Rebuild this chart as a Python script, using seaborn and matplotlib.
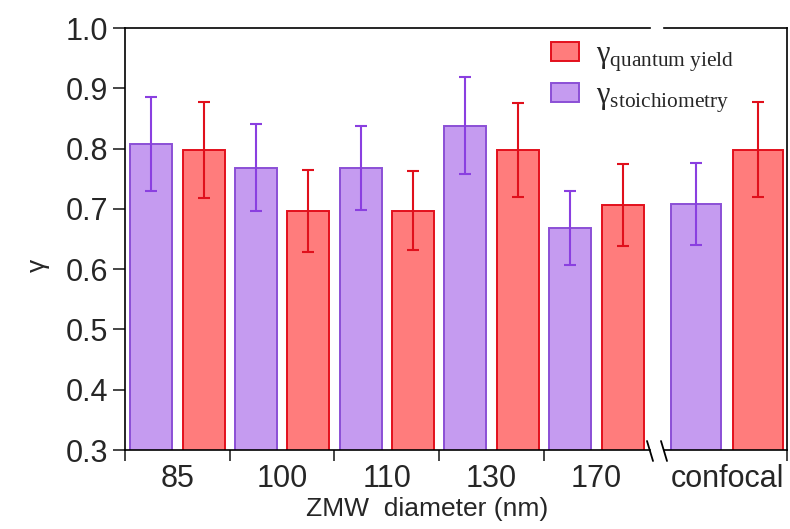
import numpy as np
import pandas as pd
import matplotlib
matplotlib.use("Agg")
import matplotlib.pyplot as plt
from matplotlib.patches import Patch
import seaborn as sns

# ---- data ----
zmw_categories = ["85", "100", "110", "130", "170"]
confocal_category = ["confocal"]
series_names = ["stoichiometry", "quantum yield"]

stoich_values = [0.808, 0.768, 0.768, 0.838, 0.668, 0.708]
stoich_errors = [0.078, 0.072, 0.070, 0.080, 0.061, 0.068]
qy_values = [0.798, 0.697, 0.697, 0.798, 0.707, 0.798]
qy_errors = [0.080, 0.068, 0.066, 0.078, 0.068, 0.079]

y_ticks = [0.3, 0.4, 0.5, 0.6, 0.7, 0.8, 0.9, 1.0]

# ---- style ----
sns.set_style("ticks")
plt.rcParams["font.family"] = ["Liberation Sans", "DejaVu Sans"]
plt.rcParams["mathtext.fontset"] = "custom"
plt.rcParams["mathtext.rm"] = "Liberation Serif"
plt.rcParams["mathtext.it"] = "Liberation Serif:italic"

fill_colors = {"stoichiometry": "#C59BF0", "quantum yield": "#FF7C7C"}
edge_colors = {"stoichiometry": "#8B4FD6", "quantum yield": "#E3101C"}
err_colors = {"stoichiometry": "#8A3FE0", "quantum yield": "#E0101C"}

all_cats = zmw_categories + confocal_category
rows = []
for i, c in enumerate(all_cats):
    rows.append(dict(cat=c, series="stoichiometry", value=stoich_values[i], err=stoich_errors[i]))
    rows.append(dict(cat=c, series="quantum yield", value=qy_values[i], err=qy_errors[i]))
df = pd.DataFrame(rows)

fig = plt.figure(figsize=(7.9, 5.29), dpi=100)
W, H = 790, 529
ax1 = fig.add_axes([125 / W, (H - 450) / H, 525 / W, 422 / H])
ax2 = fig.add_axes([664 / W, (H - 450) / H, 123 / W, 422 / H])

def draw(ax, cats):
    sub = df[df["cat"].isin(cats)]
    sns.barplot(data=sub, x="cat", y="value", hue="series", order=cats,
                hue_order=series_names, palette=fill_colors, width=1.0, gap=0.2,
                errorbar=None, legend=False, ax=ax, saturation=1)
    for cont, s in zip(ax.containers, series_names):
        vals = sub[sub["series"] == s].set_index("cat").loc[cats]
        xs = []
        for bar in cont:
            bar.set_edgecolor(edge_colors[s])
            bar.set_linewidth(1.4)
            xs.append(bar.get_x() + bar.get_width() / 2)
        ax.errorbar(xs, vals["value"].values, yerr=vals["err"].values, fmt="none",
                    ecolor=err_colors[s], elinewidth=1.5, capsize=4, capthick=1.5, zorder=5)
    ax.set_ylim(0.3, 1.0)
    ax.set_xlabel("")
    ax.set_ylabel("")

draw(ax1, zmw_categories)
draw(ax2, confocal_category)

ax1.set_xlim(-0.5, 4.512)
ax2.set_xlim(-0.508, 0.484)

for ax in (ax1, ax2):
    for sp in ax.spines.values():
        sp.set_linewidth(1.2)
        sp.set_color("black")

ax1.spines["right"].set_visible(False)
ax2.spines["left"].set_visible(False)

# y axis
ax1.set_yticks(y_ticks)
ax1.set_yticklabels([f"{v:.1f}" for v in y_ticks])
ax1.tick_params(axis="y", direction="out", length=9, width=1.2, labelsize=22, pad=3)
ax2.set_yticks([])

# x axis: ticks at group boundaries, labels at centers
ax1.set_xticks(np.arange(-0.5, 4, 1.0))
ax1.set_xticklabels([])
ax1.set_xticks(np.arange(len(zmw_categories)), minor=True)
ax1.set_xticklabels(zmw_categories, minor=True)
ax1.tick_params(axis="x", which="major", direction="out", length=8, width=1.2)
ax1.tick_params(axis="x", which="minor", length=0, labelsize=22, pad=10)

ax2.set_xticks([0.484])
ax2.set_xticklabels([])
ax2.set_xticks([0], minor=True)
ax2.set_xticklabels(confocal_category, minor=True)
ax2.tick_params(axis="x", which="major", direction="out", length=8, width=1.2)
ax2.tick_params(axis="x", which="minor", length=0, labelsize=22, pad=10)

# break marks
for xp in (650, 664):
    fig.add_artist(plt.Line2D([(xp - 3) / W, (xp + 3) / W],
                              [(H - 441) / H, (H - 461) / H],
                              color="black", lw=1.3, transform=fig.transFigure))

# labels
fig.text(427 / W, (H - 509) / H, "ZMW  diameter (nm)", ha="center", va="center", fontsize=19)
fig.text(38 / W, (H - 265) / H, "γ", ha="center", va="center", fontsize=19, rotation=90)

# legend
handles = [Patch(facecolor=fill_colors["quantum yield"], edgecolor=edge_colors["quantum yield"], lw=1.4),
           Patch(facecolor=fill_colors["stoichiometry"], edgecolor=edge_colors["stoichiometry"], lw=1.4)]
labels = [r"$\mathrm{γ}_{\mathrm{quantum\ yield}}$", r"$\mathrm{γ}_{\mathrm{stoichiometry}}$"]
fig.legend(handles, labels, loc="upper left", bbox_to_anchor=(539 / W, (H - 27) / H),
           frameon=False, fontsize=22, handlelength=0.9, handleheight=0.6,
           handletextpad=0.55, labelspacing=0.22, borderaxespad=0, borderpad=0.4)

fig.savefig("out.png", dpi=100)
